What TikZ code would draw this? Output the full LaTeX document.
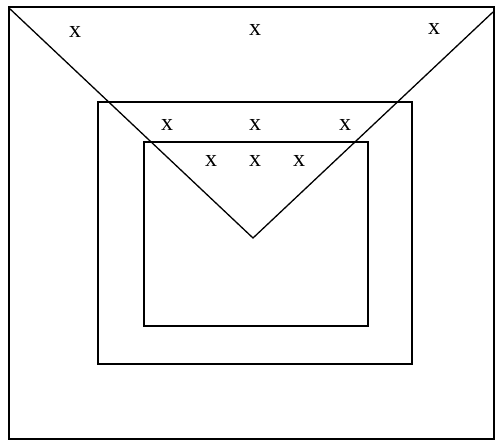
\documentclass[tikz,border=0pt]{standalone}
\usepackage{fontspec}
\setmainfont{Liberation Serif}
\usetikzlibrary{positioning}

\begin{document}
\begin{tikzpicture}[x=1pt, y=-1pt,
      caja/.style={draw, line width=1.5pt},
      cuna/.style={draw, line width=1.3pt},
      marca/.style={inner sep=0pt, font=\fontsize{24}{24}\selectfont}]
    \useasboundingbox (0,0) rectangle (495,441);
    % rectangulos
    \draw[caja] (9,7) rectangle (494,439);
    \draw[caja] (98,102) rectangle (412,364);
    \draw[caja] (144,142) rectangle (368,326);
    % cuna
    \coordinate (vi) at (9,8);
    \coordinate (vf) at (253,238);
    \coordinate (vd) at (493,12);
    \draw[cuna] (vi) -- (vf) -- (vd);
    % marcas
    \node[marca] (a1) at (75,32) {x};
    \node[marca] (a2) at (255,30) {x};
    \node[marca] (a3) at (434,29) {x};
    \node[marca] (b1) at (167,125) {x};
    \node[marca] (b2) at (255,125) {x};
    \node[marca] (b3) at (345,125) {x};
    \node[marca] (c1) at (211,161) {x};
    \node[marca] (c2) at (255,161) {x};
    \node[marca] (c3) at (299,161) {x};
\end{tikzpicture}
\end{document}
